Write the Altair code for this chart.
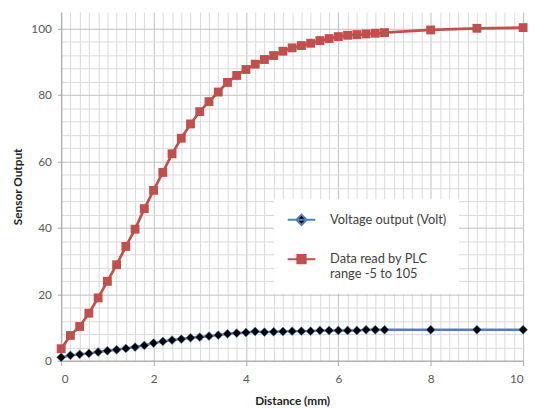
import altair as alt
import pandas as pd

# ---------------- data ----------------
distance = [0.0, 0.2, 0.4, 0.6, 0.8, 1.0, 1.2, 1.4, 1.6, 1.8,
            2.0, 2.2, 2.4, 2.6, 2.8, 3.0, 3.2, 3.4, 3.6, 3.8,
            4.0, 4.2, 4.4, 4.6, 4.8, 5.0, 5.2, 5.4, 5.6, 5.8,
            6.0, 6.2, 6.4, 6.6, 6.8, 7.0, 8.0, 9.0, 10.0]

voltage = [1.0, 1.6, 1.9, 2.2, 2.6, 3.0, 3.3, 3.7, 4.1, 4.6,
           5.3, 5.8, 6.2, 6.5, 6.9, 7.1, 7.4, 7.7, 8.1, 8.3,
           8.5, 8.8, 8.6, 8.7, 8.8, 8.9, 8.9, 8.9, 9.1, 9.1,
           9.1, 9.1, 9.1, 9.3, 9.3, 9.3, 9.3, 9.3, 9.3]

plc = [3.6, 7.6, 10.3, 14.3, 18.9, 23.9, 28.9, 34.4, 39.6, 45.8,
       51.3, 56.7, 62.3, 67.0, 71.3, 75.0, 78.0, 80.9, 83.8, 85.9,
       87.7, 89.3, 90.7, 91.9, 93.2, 94.2, 94.9, 95.6, 96.4, 97.0,
       97.6, 98.0, 98.2, 98.4, 98.6, 98.8, 99.6, 100.1, 100.3]

series_names = ["Voltage output (Volt)", "Data read by PLC\nrange -5 to 105"]
series_keys = ["V", "P"]

x_ticks = [round(i * 0.2, 1) for i in range(51)]
y_ticks = list(range(0, 101, 4))

# ---------------- styles ----------------
BLUE = "#4F81BD"
RED = "#C0504D"
FONT = "Lato"

rows = []
for d, v in zip(distance, voltage):
    rows.append({"distance": d, "value": v, "key": "V", "series": series_names[0]})
for d, v in zip(distance, plc):
    rows.append({"distance": d, "value": v, "key": "P", "series": series_names[1]})
df = pd.DataFrame(rows)

x_major = "abs(datum.value - 2*round(datum.value/2)) < 0.001"
y_major = "datum.value % 20 === 0"

x_enc = alt.X(
    "distance:Q",
    scale=alt.Scale(domain=[0, 10], nice=False, zero=False),
    axis=alt.Axis(
        values=x_ticks,
        title="Distance (mm)",
        labelExpr=f"({x_major}) ? format(datum.value, 'd') : ''",
        labelOverlap=False,
        gridColor={"condition": {"test": x_major, "value": "#BFBFBF"}, "value": "#D9D9D9"},
        tickOpacity={"condition": {"test": x_major, "value": 1}, "value": 0},
        tickSize=5,
        labelPadding=8,
        titlePadding=11,
    ),
)
y_enc = alt.Y(
    "value:Q",
    scale=alt.Scale(domain=[0, 105], nice=False),
    axis=alt.Axis(
        values=y_ticks,
        title="Sensor Output",
        labelExpr=f"({y_major}) ? datum.label : ''",
        labelOverlap=False,
        gridColor={"condition": {"test": y_major, "value": "#BFBFBF"}, "value": "#D9D9D9"},
        tickOpacity={"condition": {"test": y_major, "value": 1}, "value": 0},
        tickSize=4,
        labelPadding=6,
        titlePadding=6,
    ),
)

base = alt.Chart(df)

color_scale = alt.Scale(domain=series_keys, range=[BLUE, RED])

line_v = base.transform_filter(alt.datum.key == "V").mark_line(strokeWidth=2.5).encode(
    x=x_enc, y=y_enc, color=alt.Color("key:N", scale=color_scale, legend=None))
pts_v = base.transform_filter(alt.datum.key == "V").mark_point(
    shape="diamond", filled=True, size=81, fill="black", stroke=BLUE,
    strokeWidth=0.6, opacity=1).encode(x=x_enc, y=y_enc)
line_p = base.transform_filter(alt.datum.key == "P").mark_line(strokeWidth=2.75).encode(
    x=x_enc, y=y_enc, color=alt.Color("key:N", scale=color_scale, legend=None))
pts_p = base.transform_filter(alt.datum.key == "P").mark_point(
    shape="square", filled=True, size=81, color=RED, opacity=1).encode(x=x_enc, y=y_enc)

legend = alt.Legend(
    title=None,
    orient="none",
    legendX=216,
    legendY=190,
    fillColor="white",
    padding=13,
    symbolSize=196,
    symbolStrokeWidth=2,
    labelFont=FONT,
    labelFontSize=13,
    labelColor="#404040",
    labelOffset=28,
    labelLimit=300,
    rowPadding=21,
    labelExpr="split(datum.label, '\\n')",
)
path_v = "M-1,0L3,0M1,-0.75L1.75,0L1,0.75L0.25,0Z"
path_p = "M-1,0L3,0M0.4,-0.6L1.6,-0.6L1.6,0.6L0.4,0.6Z"
legend_layer = base.transform_filter("false").mark_point(filled=True, opacity=1).encode(
    x=x_enc, y=y_enc,
    shape=alt.Shape("series:N", scale=alt.Scale(domain=series_names, range=[path_v, path_p]), legend=legend),
    fill=alt.Fill("series:N", scale=alt.Scale(domain=series_names, range=["black", RED]), legend=legend),
    stroke=alt.Stroke("series:N", scale=alt.Scale(domain=series_names, range=[BLUE, RED]), legend=legend),
)

chart = alt.layer(line_v, pts_v, line_p, pts_p, legend_layer).properties(
    width=469,
    height=354,
    autosize=alt.AutoSizeParams(type="none"),
    padding={"left": 54, "top": 1, "right": 7, "bottom": 48},
    background="white",
).configure_view(stroke=None).configure_axis(
    labelFont=FONT,
    labelFontSize=12,
    labelColor="#595959",
    titleFont=FONT,
    titleFontSize=12,
    titleFontWeight="bold",
    titleColor="#222222",
    domainColor="#A6A6A6",
    tickColor="#A6A6A6",
    gridWidth=1,
)

chart.save("out.html", embed_options={"renderer": "svg", "actions": False})
